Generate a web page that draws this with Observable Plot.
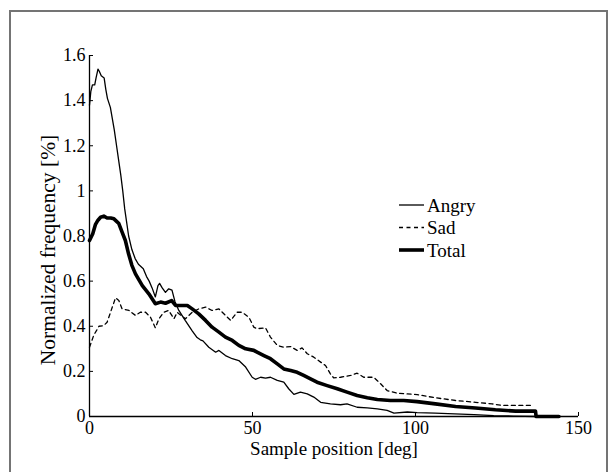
<!DOCTYPE html>
<html>
<head>
<meta charset="utf-8">
<script src="https://cdn.jsdelivr.net/npm/d3@7"></script>
<script src="https://cdn.jsdelivr.net/npm/@observablehq/plot@0.6"></script>
<style>
  html, body { margin: 0; padding: 0; background: #fff; }
  #wrap { position: relative; width: 616px; height: 472px; overflow: hidden; background: #fff; font-family: 'Liberation Serif'; }
  #frame { position: absolute; left: 9px; top: 10px; width: 599px; height: 600px;
           border-left: 2px solid #747474; border-top: 2px solid #747474; border-right: 2px solid #747474; box-sizing: border-box; }
  #chart { position: absolute; left: 0; top: 0; }
  #legend { position: absolute; left: 390px; top: 190px; }
</style>
</head>
<body>
<div id="wrap">
  <div id="frame"></div>
  <div id="chart"></div>
  <svg id="legend" width="120" height="75"></svg>
</div>
<script>
const seriesNames = ["Angry", "Sad", "Total"];
const xTicks = [0, 50, 100, 150];
const yTicks = [0, 0.2, 0.4, 0.6, 0.8, 1, 1.2, 1.4, 1.6];
const xTitle = "Sample position [deg]";
const yTitle = "Normalized frequency [%]";

const angryX = [0, 0.4, 0.9, 1.6, 2.0, 2.6, 3.0, 3.6, 4.5, 5.0, 5.5, 6.4, 7.0, 7.6, 8.3, 9.0, 9.6, 10.2, 10.8, 11.4, 12.0, 13.0, 14.0, 15.0, 16.5, 17.5, 18.3, 19.2, 20.2, 21.0, 21.5, 22.3, 23.3, 24.3, 25.3, 26.2, 27.4, 29.4, 31.5, 33.0, 34.0, 34.8, 36.6, 38.7, 39.7, 41.7, 43.8, 45.8, 47.9, 49.9, 50.9, 52.5, 54, 55.5, 57.6, 59.6, 61.1, 62.7, 64.7, 66.8, 68.8, 70.9, 73.9, 77, 79, 82.1, 85.2, 88.3, 91.3, 93.4, 97.5, 100.5, 106, 112, 118, 124, 130, 137, 144];
const angryY = [1.38, 1.44, 1.47, 1.47, 1.50, 1.54, 1.53, 1.51, 1.50, 1.45, 1.41, 1.37, 1.32, 1.27, 1.20, 1.13, 1.07, 1.0, 0.92, 0.86, 0.80, 0.74, 0.70, 0.675, 0.655, 0.62, 0.60, 0.57, 0.53, 0.58, 0.59, 0.57, 0.55, 0.566, 0.56, 0.51, 0.47, 0.425, 0.38, 0.35, 0.34, 0.335, 0.307, 0.285, 0.293, 0.27, 0.256, 0.248, 0.219, 0.174, 0.165, 0.174, 0.17, 0.174, 0.16, 0.152, 0.123, 0.098, 0.108, 0.10, 0.086, 0.063, 0.056, 0.052, 0.056, 0.041, 0.038, 0.034, 0.027, 0.015, 0.02, 0.017, 0.015, 0.012, 0.008, 0.004, 0.002, 0, 0];

const sadX = [0, 1.3, 2.9, 4.4, 5.4, 7.0, 8.0, 9.0, 10, 12.1, 14.1, 15.6, 17.2, 18.7, 20.2, 21.3, 22.8, 24.3, 25.9, 26.9, 29.4, 31.5, 33.5, 35.6, 37.6, 39.7, 41.7, 43.3, 45.3, 46.8, 48.9, 50.4, 51.4, 54, 55.5, 57.6, 59.6, 61.7, 63.7, 65.2, 66.8, 68.8, 70.9, 72.4, 73.9, 74.9, 77, 80.1, 82.1, 84.1, 87.2, 89.3, 91.3, 94.4, 97.5, 100.5, 106.1, 112.3, 118.4, 123.5, 126.6, 136];
const sadY = [0.307, 0.36, 0.40, 0.403, 0.418, 0.485, 0.526, 0.514, 0.477, 0.47, 0.448, 0.462, 0.462, 0.44, 0.393, 0.433, 0.462, 0.47, 0.433, 0.462, 0.433, 0.462, 0.477, 0.485, 0.47, 0.477, 0.448, 0.426, 0.462, 0.462, 0.44, 0.396, 0.389, 0.393, 0.352, 0.315, 0.307, 0.31, 0.293, 0.304, 0.278, 0.263, 0.241, 0.226, 0.189, 0.171, 0.174, 0.182, 0.192, 0.174, 0.174, 0.145, 0.115, 0.103, 0.10, 0.097, 0.083, 0.071, 0.063, 0.056, 0.049, 0.049];

const totalX = [0, 1, 1.8, 2.6, 3.4, 4.4, 5.4, 6.5, 7.5, 8.3, 9.0, 10, 11, 12, 13, 14.1, 16.2, 18.2, 20.2, 21.8, 23.3, 25.2, 26.4, 28.4, 30, 31.5, 33.5, 35.6, 37.6, 39.7, 41.7, 43.8, 45.8, 47.9, 50.4, 51.4, 53.5, 55.5, 57.6, 59.6, 61.7, 63.7, 65.7, 67.8, 69.8, 72.9, 76, 79, 82.1, 85.2, 88.3, 92.3, 96.4, 100.5, 106.1, 112.3, 118.4, 124.5, 130.7, 136.8, 137, 144];
const totalY = [0.78, 0.81, 0.85, 0.87, 0.883, 0.888, 0.88, 0.88, 0.876, 0.865, 0.855, 0.817, 0.78, 0.72, 0.67, 0.632, 0.58, 0.544, 0.50, 0.507, 0.502, 0.514, 0.492, 0.492, 0.492, 0.477, 0.455, 0.426, 0.396, 0.374, 0.352, 0.337, 0.315, 0.30, 0.293, 0.285, 0.27, 0.256, 0.233, 0.211, 0.204, 0.196, 0.182, 0.167, 0.152, 0.137, 0.123, 0.108, 0.093, 0.083, 0.075, 0.071, 0.071, 0.066, 0.056, 0.044, 0.038, 0.03, 0.024, 0.024, 0, 0];

const toRows = (name, xs, ys) => xs.map((x, i) => ({series: name, x, y: ys[i]}));
const angry = toRows(seriesNames[0], angryX, angryY);
const sad = toRows(seriesNames[1], sadX, sadY);
const total = toRows(seriesNames[2], totalX, totalY);

const font = "Liberation Serif";
const styles = {
  Angry: {strokeWidth: 1.3, dash: null},
  Sad: {strokeWidth: 1.3, dash: "4,3.5"},
  Total: {strokeWidth: 3.6, dash: null}
};

const chart = Plot.plot({
  width: 616,
  height: 472,
  marginLeft: 89,
  marginRight: 38,
  marginTop: 55,
  marginBottom: 56,
  x: {domain: [0, 150]},
  y: {domain: [0, 1.6]},
  style: {fontFamily: font, fontSize: "18px", color: "black", background: "transparent"},
  marks: [
    Plot.lineY(angry, {x: "x", y: "y", stroke: "black", strokeWidth: styles.Angry.strokeWidth}),
    Plot.lineY(sad, {x: "x", y: "y", stroke: "black", strokeWidth: styles.Sad.strokeWidth, strokeDasharray: styles.Sad.dash}),
    Plot.lineY(total, {x: "x", y: "y", stroke: "black", strokeWidth: styles.Total.strokeWidth}),
    Plot.ruleX([0], {stroke: "black", strokeWidth: 1.3}),
    Plot.ruleY([0], {stroke: "black", strokeWidth: 1.3}),
    Plot.axisX({ticks: xTicks, tickSize: -4, fill: "none", label: null}),
    Plot.axisY({ticks: yTicks, tickSize: -4, fill: "none", label: null}),
    Plot.axisX({ticks: xTicks, tickSize: 0, tickPadding: 5, label: null, fontSize: 18, fontFamily: font}),
    Plot.axisY({ticks: yTicks, tickSize: 0, tickPadding: 4, label: null, fontSize: 18, fontFamily: font, tickFormat: d3.format("~g")}),
    Plot.text([xTitle], {frameAnchor: "bottom", dy: 32, lineAnchor: "middle", textAnchor: "middle", fontSize: 19, fontFamily: font}),
    Plot.text([yTitle], {frameAnchor: "left", dx: -41, dy: 14, rotate: -90, lineAnchor: "middle", textAnchor: "middle", fontSize: 21.5, fontFamily: font})
  ]
});
document.getElementById("chart").appendChild(chart);

// legend
const legend = d3.select("#legend");
seriesNames.forEach((name, i) => {
  const cy = 15 + i * 22.5;
  const s = styles[name];
  legend.append("line")
    .attr("x1", 9).attr("x2", 34).attr("y1", cy).attr("y2", cy)
    .attr("stroke", "black").attr("stroke-width", s.strokeWidth)
    .attr("stroke-dasharray", s.dash);
  legend.append("text")
    .attr("x", 37).attr("y", cy).attr("dy", "0.35em")
    .style("font-family", font).attr("font-size", 19)
    .text(name);
});
</script>
</body>
</html>
